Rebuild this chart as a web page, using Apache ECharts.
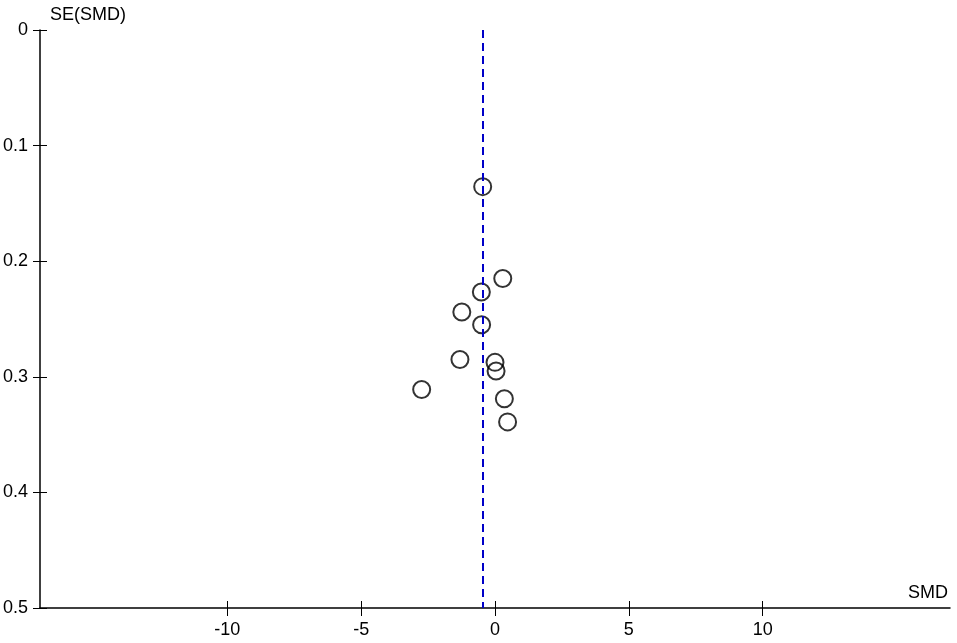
<!DOCTYPE html>
<html>
<head>
<meta charset="utf-8">
<script src="https://cdn.jsdelivr.net/npm/echarts@6/dist/echarts.min.js"></script>
<style>html,body{margin:0;padding:0;background:#fff;}#c{width:957px;height:643px;}</style>
</head>
<body>
<div id="c"></div>
<script>
// Study data
const smd = [-0.46, 0.29, -0.51, -1.24, -0.50, -1.31, 0.00, 0.04, -2.74, 0.35, 0.47];
const se  = [0.1355, 0.215, 0.2266, 0.244, 0.255, 0.285, 0.2875, 0.295, 0.311, 0.319, 0.339];
const pooledSMD = -0.45;
const xTicks = [-10, -5, 0, 5, 10];
const xRange = [-17, 17];
const yRange = [0, 0.5];
const xTitle = 'SMD';
const yTitle = 'SE(SMD)';

const points = smd.map((v, i) => [v, se[i]]);
const font = 'Liberation Sans, Arial, sans-serif';
const gridBox = { left: 40, right: 7, top: 30, bottom: 35, containLabel: false, outerBoundsMode: 'none' };
const chart = echarts.init(document.getElementById('c'));
chart.setOption({
  backgroundColor: '#ffffff',
  animation: false,
  grid: [Object.assign({}, gridBox), Object.assign({}, gridBox)],
  xAxis: [
    {
      gridIndex: 0, type: 'value', min: xRange[0], max: xRange[1], position: 'bottom',
      splitLine: { show: false },
      axisLine: { show: true, onZero: false, lineStyle: { color: '#000', width: 1.5 } },
      axisTick: { show: true, customValues: xTicks, length: 8, lineStyle: { color: '#000', width: 1 } },
      axisLabel: { customValues: xTicks, color: '#000', fontSize: 18, fontFamily: font, margin: 13 }
    },
    {
      gridIndex: 1, type: 'value', min: xRange[0], max: xRange[1], position: 'bottom',
      splitLine: { show: false },
      axisLine: { show: false, onZero: false },
      axisTick: { show: true, inside: true, customValues: xTicks, length: 7, lineStyle: { color: '#000', width: 1 } },
      axisLabel: { show: false }
    }
  ],
  yAxis: [
    {
      gridIndex: 0, type: 'value', min: yRange[0], max: yRange[1], interval: 0.1, inverse: true, position: 'left',
      splitLine: { show: false },
      axisLine: { show: true, onZero: false, lineStyle: { color: '#000', width: 1.5 } },
      axisTick: { show: true, length: 7, lineStyle: { color: '#000', width: 1 } },
      axisLabel: { color: '#000', fontSize: 18, fontFamily: font, margin: 12 }
    },
    {
      gridIndex: 1, type: 'value', min: yRange[0], max: yRange[1], interval: 0.1, inverse: true, position: 'left',
      splitLine: { show: false },
      axisLine: { show: false, onZero: false },
      axisTick: { show: true, inside: true, length: 7, lineStyle: { color: '#000', width: 1 } },
      axisLabel: { show: false }
    }
  ],
  graphic: [
    { type: 'text', left: 50, top: 6, style: { text: yTitle, fill: '#000', font: '18px ' + font } },
    { type: 'text', right: 9, top: 584, style: { text: xTitle, fill: '#000', font: '18px ' + font } }
  ],
  series: [
    {
      type: 'scatter',
      xAxisIndex: 0, yAxisIndex: 0,
      data: points,
      symbol: 'circle',
      symbolSize: 17,
      itemStyle: { color: 'rgba(0,0,0,0)', borderColor: '#000', borderWidth: 2 },
      emphasis: { disabled: true },
      markLine: {
        silent: true,
        symbol: ['none', 'none'],
        label: { show: false },
        lineStyle: { color: '#0000c8', type: [8, 5], width: 2 },
        data: [{ xAxis: pooledSMD }]
      },
      z: 3
    }
  ]
});
</script>
</body>
</html>
